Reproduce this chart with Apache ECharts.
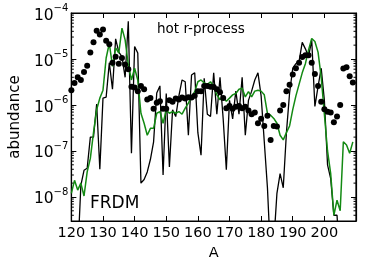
<!DOCTYPE html>
<html>
<head>
<meta charset="utf-8">
<script src="https://cdn.jsdelivr.net/npm/echarts@6/dist/echarts.min.js"></script>
<style>
html,body{margin:0;padding:0;background:#fff;}
#chart{width:374px;height:267px;}
</style>
</head>
<body>
<div id="chart"></div>
<script>
// mass numbers
const massNumbers = [120,121,122,123,124,125,126,127,128,129,130,131,132,133,134,135,136,137,138,139,140,141,142,143,144,145,146,147,148,149,150,151,152,153,154,155,156,157,158,159,160,161,162,163,164,165,166,167,168,169,170,171,172,173,174,175,176,177,178,179,180,181,182,183,184,185,186,187,188,189,190,191,192,193,194,195,196,197,198,199,200,201,202,203,204,205,206,207,208,209];

// solar r-process abundances (dots)
const solarAbund = [2.1e-6,3.0e-6,4.0e-6,3.5e-6,5.2e-6,7.1e-6,1.38e-5,2.3e-5,4.1e-5,3.4e-5,
  4.4e-5,2.5e-5,2.1e-5,8.3e-6,1.12e-5,7.9e-6,1.05e-5,7.6e-6,6.0e-6,2.5e-6,
  2.4e-6,2.0e-6,2.6e-6,2.2e-6,1.32e-6,1.41e-6,8.3e-7,1.12e-6,1.2e-6,8.3e-7,
  8.3e-7,1.26e-6,1.17e-6,1.38e-6,1.32e-6,1.45e-6,1.38e-6,1.48e-6,1.45e-6,1.58e-6,
  2.0e-6,2.0e-6,2.6e-6,2.6e-6,2.5e-6,2.45e-6,2.2e-6,1.9e-6,1.41e-6,8.5e-7,
  9.5e-7,8.3e-7,9.1e-7,9.5e-7,8.5e-7,9.1e-7,7.6e-7,6.3e-7,6.9e-7,4.0e-7,
  5.0e-7,3.5e-7,5.8e-7,1.74e-7,3.5e-7,3.4e-7,7.6e-7,1.0e-6,2.0e-6,2.75e-6,
  4.6e-6,6.3e-6,8.3e-6,1.1e-5,1.2e-5,1.2e-5,8.3e-6,4.7e-6,2.6e-6,1.17e-6,
  8.1e-7,7.1e-7,6.9e-7,4.2e-7,5.6e-7,1.0e-6,6.2e-6,6.6e-6,4.2e-6,3.1e-6];

// hot r-process, FRDM (black line)
const frdmBlack = [1e-10,1e-10,5e-10,1.78e-8,3.8e-8,4.2e-8,2.0e-7,2.0e-7,1.05e-6,4.0e-8,
  1.41e-6,1.48e-6,8.3e-6,2.2e-6,2.75e-5,1.41e-5,1.12e-5,4.0e-6,6.6e-5,8.9e-8,
  1.86e-5,1.35e-5,2.0e-8,2.4e-8,3.5e-8,6.6e-8,1.58e-7,1.82e-6,2.6e-6,3.0e-8,
  1.78e-6,4.5e-8,7.9e-7,5.6e-7,1.58e-6,3.5e-6,3.2e-6,2.2e-7,4.5e-6,5.0e-6,
  2.5e-7,8.1e-8,3.8e-6,6.3e-7,5.6e-7,5.0e-6,6.3e-7,4.0e-6,5.0e-7,3.9e-8,
  1.26e-6,5.0e-7,2.0e-6,6.3e-7,4.0e-6,2.2e-7,1.26e-6,2.0e-6,3.5e-6,5.0e-6,
  1.58e-6,1.58e-7,1.58e-8,5e-10,1e-9,1.2e-8,3.2e-8,1.58e-8,2.5e-7,1.82e-6,
  6.3e-6,7.9e-6,8.9e-6,2.3e-5,1.66e-5,1.12e-5,2.6e-5,9.3e-7,2.5e-6,6.3e-6,
  1.26e-6,5.0e-8,2.5e-8,4.0e-9,4.0e-9,3e-10,null,null,null,null];

// second calculation (green line)
const frdmGreen = [1.2e-8,2.3e-8,1.41e-8,2.0e-8,1.05e-8,3.5e-8,6.9e-8,2.5e-7,7.9e-7,1.41e-6,
  2.1e-6,1.05e-5,2.2e-5,6.9e-6,1.74e-5,1.35e-5,4.7e-5,2.6e-5,7.4e-6,3.5e-6,
  6.3e-6,3.5e-6,6.6e-7,4.0e-7,2.2e-7,3.1e-7,3.1e-7,6.6e-7,7.2e-7,4.0e-7,
  7.8e-7,6.6e-7,7.2e-7,6.6e-7,7.2e-7,6.3e-7,8.5e-7,1.1e-6,1.5e-6,1.95e-6,
  3.2e-6,3.5e-6,3.0e-6,2.8e-6,3.2e-6,2.5e-6,1.66e-6,1.3e-6,1.5e-6,1.2e-6,
  1.41e-6,1.66e-6,1.78e-6,2.2e-6,2.3e-6,1.5e-6,1.95e-6,1.5e-6,2.0e-6,2.1e-6,
  2.0e-6,1.66e-6,6.6e-7,6.0e-7,5.1e-7,4.0e-7,2.2e-7,1.74e-7,2.5e-7,3.5e-7,
  7.9e-7,1.58e-6,2.8e-6,5.0e-6,7.9e-6,1.58e-5,2.8e-5,2.4e-5,1.41e-5,4.0e-6,
  6.3e-7,1.0e-7,3.2e-8,4.0e-9,8.5e-9,5.0e-9,1.58e-7,1.35e-7,8.9e-8,1.58e-7];

// axis ticks
const xTickLabels = [120,130,140,150,160,170,180,190,200];
const yMinorTicks = [4e-9,5e-9,6e-9,7e-9,8e-9,9e-9,
  2e-8,3e-8,4e-8,5e-8,6e-8,7e-8,8e-8,9e-8,
  2e-7,3e-7,4e-7,5e-7,6e-7,7e-7,8e-7,9e-7,
  2e-6,3e-6,4e-6,5e-6,6e-6,7e-6,8e-6,9e-6,
  2e-5,3e-5,4e-5,5e-5,6e-5,7e-5,8e-5,9e-5];

const pair = (arr) => massNumbers.map((a, i) => [a, arr[i]]);
const FONT = 'DejaVu Sans';

const chart = echarts.init(document.getElementById('chart'), null, {renderer: 'canvas'});

const yLabelFmt = function (v) {
  const e = Math.log10(v);
  const r = Math.round(e);
  if (Math.abs(e - r) > 1e-6) return '';
  return '{b|10}{s|\u2212' + Math.abs(r) + '}';
};

const axisCommon = {
  axisLine: {show: true, lineStyle: {color: '#000', width: 1.2}},
  splitLine: {show: false}
};

chart.setOption({
  animation: false,
  backgroundColor: '#fff',
  grid: {left: 57, right: 18, top: 13, bottom: 46, show: true, borderColor: '#000', borderWidth: 1.2},
  xAxis: [
    Object.assign({
      type: 'value', min: 120, max: 210, interval: 10, position: 'bottom',
      axisTick: {inside: true, length: 5, lineStyle: {color: '#000', width: 1}},
      axisLabel: {
        fontSize: 14.5, fontFamily: FONT, color: '#000', margin: 5,
        formatter: v => (xTickLabels.indexOf(v) >= 0 ? String(v) : '')
      },
      name: 'A', nameLocation: 'middle', nameGap: 23,
      nameTextStyle: {fontSize: 14.5, fontFamily: FONT, color: '#000'}
    }, axisCommon),
    Object.assign({
      type: 'value', min: 120, max: 210, interval: 10, position: 'top',
      axisTick: {inside: true, length: 5, lineStyle: {color: '#000', width: 1}},
      axisLabel: {show: false}
    }, axisCommon)
  ],
  yAxis: [
    Object.assign({
      type: 'log', logBase: 10, min: 3e-9, max: 1e-4, position: 'left',
      axisTick: {inside: true, length: 5, lineStyle: {color: '#000', width: 1}},
      axisLabel: {
        margin: 3, formatter: yLabelFmt,
        rich: {
          b: {fontSize: 15.5, fontFamily: FONT, color: '#000', padding: [5, 0, 0, 0]},
          s: {fontSize: 10, fontFamily: FONT, color: '#000', padding: [0, 0, 10, 0]}
        }
      },
      name: 'abundance', nameLocation: 'middle', nameGap: 39, nameRotate: 90,
      nameTextStyle: {fontSize: 15, fontFamily: FONT, color: '#000'}
    }, axisCommon),
    Object.assign({
      type: 'log', logBase: 10, min: 3e-9, max: 1e-4, position: 'right',
      axisTick: {inside: true, length: 5, lineStyle: {color: '#000', width: 1}},
      axisLabel: {show: false}
    }, axisCommon)
  ],
  graphic: [
    {type: 'text', x: 157, y: 29.5, style: {text: 'hot r-process', font: '13.5px "DejaVu Sans"', fill: '#000', verticalAlign: 'middle'}},
    {type: 'text', x: 90, y: 204, style: {text: 'FRDM', font: '17px "DejaVu Sans"', fill: '#000', verticalAlign: 'middle'}}
  ],
  series: [
    {
      type: 'custom', name: 'minor ticks', silent: true, z: 1,
      xAxisIndex: 0, yAxisIndex: 0, clip: false,
      data: yMinorTicks.map(v => [120, v]),
      renderItem: function (params, api) {
        const v = api.value(1);
        const l = api.coord([120, v]);
        const r = api.coord([210, v]);
        return {
          type: 'group',
          children: [
            {type: 'line', shape: {x1: l[0], y1: l[1], x2: l[0] + 2.5, y2: l[1]}, style: {stroke: '#000', lineWidth: 1}},
            {type: 'line', shape: {x1: r[0] - 2.5, y1: r[1], x2: r[0], y2: r[1]}, style: {stroke: '#000', lineWidth: 1}}
          ]
        };
      }
    },
    {
      type: 'line', name: 'FRDM', data: pair(frdmBlack), showSymbol: false, connectNulls: false,
      lineStyle: {color: '#000', width: 1.3}, itemStyle: {color: '#000'}, z: 2
    },
    {
      type: 'line', name: 'green', data: pair(frdmGreen), showSymbol: false,
      lineStyle: {color: '#138a13', width: 1.5}, itemStyle: {color: '#138a13'}, z: 3
    },
    {
      type: 'scatter', name: 'solar', data: pair(solarAbund), symbolSize: 6,
      itemStyle: {color: '#000', opacity: 1}, z: 4
    }
  ]
});
</script>
</body>
</html>
